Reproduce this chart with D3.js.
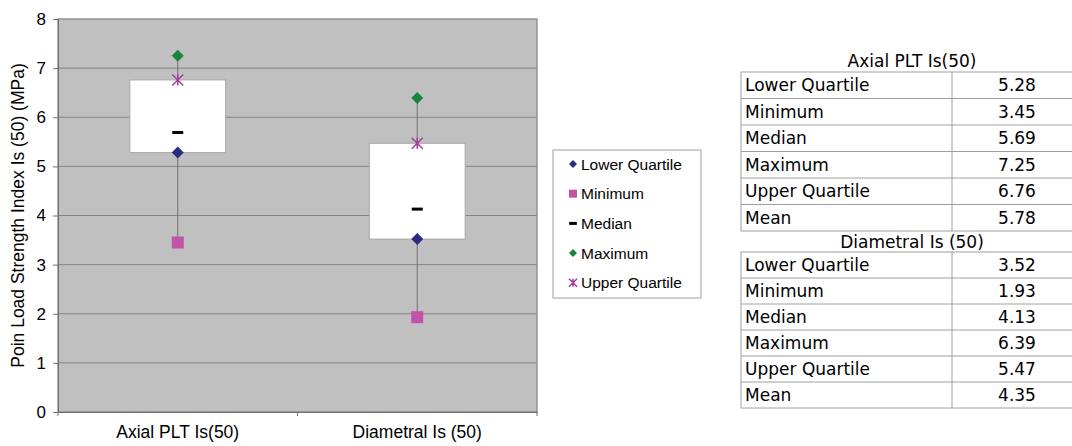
<!DOCTYPE html>
<html><head><meta charset="utf-8">
<script src="https://cdn.jsdelivr.net/npm/d3@7"></script>
<style>html,body{margin:0;padding:0;background:#fff;}svg{display:block;}</style>
</head><body><svg id="c" width="1072" height="446"></svg>
<script>
const categories = ["Axial PLT Is(50)", "Diametral Is (50)"];
const lowerQuartile = [5.28, 3.52];
const minimum = [3.45, 1.93];
const median = [5.69, 4.13];
const maximum = [7.25, 6.39];
const upperQuartile = [6.76, 5.47];
const mean = [5.78, 4.35];
const yTicks = [0,1,2,3,4,5,6,7,8];
const statLabels = ["Lower Quartile","Minimum","Median","Maximum","Upper Quartile","Mean"];
const legendLabels = ["Lower Quartile","Minimum","Median","Maximum","Upper Quartile"];
const yTitle = "Poin Load Strength Index Is (50) (MPa)";

const svg = d3.select("#c");
const L = 58, R = 537, T = 19, B = 412;
const x = d3.scaleBand().domain(categories).range([L, R]);
const y = d3.scaleLinear().domain([0, 8]).range([B, T]);
const col = {lq:"#2b2b84", min:"#c153a9", med:"#000", max:"#17853f", uq:"#a03ca0"};
const sans = "Liberation Sans, Arial, sans-serif";
const verd = "DejaVu Sans, Verdana, sans-serif";

svg.append("rect").attr("x",L).attr("y",T).attr("width",R-L).attr("height",B-T)
  .attr("fill","#c0c0c0").attr("stroke","#808080").attr("stroke-width",1.2);
svg.append("g").selectAll("line").data(yTicks.filter(d=>d>0&&d<8)).join("line")
  .attr("x1",L).attr("x2",R).attr("y1",d=>y(d)).attr("y2",d=>y(d))
  .attr("stroke","#858585").attr("stroke-width",1);

// y axis
const ya = svg.append("g").attr("transform",`translate(${L},0)`)
  .call(d3.axisLeft(y).tickValues(yTicks).tickSize(5).tickPadding(7).tickFormat(d3.format("d")));
ya.select(".domain").attr("stroke","#707070");
ya.selectAll(".tick line").attr("stroke","#707070");
ya.selectAll("text").attr("font-family",sans).attr("font-size",17).attr("fill","#000");
// x axis
const xa = svg.append("g").attr("transform",`translate(0,${B})`)
  .call(d3.axisBottom(x).tickSize(0).tickPadding(14));
xa.select(".domain").attr("stroke","#707070");
xa.selectAll("text").attr("font-family",sans).attr("font-size",17.5).attr("fill","#000");
svg.append("g").selectAll("line").data([L, L+x.bandwidth(), R]).join("line")
  .attr("x1",d=>d).attr("x2",d=>d).attr("y1",B).attr("y2",B+4).attr("stroke","#707070");

svg.append("text").attr("transform",`translate(24,${(T+B)/2}) rotate(-90)`)
  .attr("text-anchor","middle").attr("font-family",sans)
  .attr("font-size",17.5).text(yTitle);

const cx = i => x(categories[i]) + x.bandwidth()/2;
const idx = d3.range(categories.length);
const boxW = x.bandwidth()*0.4;
const g = svg.append("g");
g.selectAll("line.wh").data(idx).join("line").attr("class","wh")
  .attr("x1",cx).attr("x2",cx).attr("y1",i=>y(minimum[i])).attr("y2",i=>y(maximum[i]))
  .attr("stroke","#707070").attr("stroke-width",1);
g.selectAll("rect.box").data(idx).join("rect").attr("class","box")
  .attr("x",i=>cx(i)-boxW/2).attr("width",boxW)
  .attr("y",i=>y(upperQuartile[i])).attr("height",i=>y(lowerQuartile[i])-y(upperQuartile[i]))
  .attr("fill","#fff").attr("stroke","#a8a8a8").attr("stroke-width",1);

function marker(sel, type, s){
  if(type==="lq"||type==="max"){
    sel.append("path").attr("d",`M0,${-s}L${s},0L0,${s}L${-s},0Z`).attr("fill",col[type]);
  } else if(type==="min"){
    sel.append("rect").attr("x",-s).attr("y",-s).attr("width",2*s).attr("height",2*s).attr("fill",col.min);
  } else if(type==="med"){
    sel.append("rect").attr("x",-s*1.1).attr("y",-1.5).attr("width",s*2.2).attr("height",3).attr("fill","#000");
  } else {
    sel.append("path").attr("d",`M${-s},${-s}L${s},${s}M${-s},${s}L${s},${-s}M0,${-s}L0,${s}`)
      .attr("stroke",col.uq).attr("stroke-width",1.5).attr("fill","none");
  }
}
const series = [["min",minimum,6],["lq",lowerQuartile,6],["med",median,5],["max",maximum,6],["uq",upperQuartile,5.5]];
series.forEach(([t,arr,s])=>{
  idx.forEach(i=>{
    const m = g.append("g").attr("transform",`translate(${cx(i)},${y(arr[i])})`);
    marker(m,t,s);
  });
});

// legend
const lg = svg.append("g");
lg.append("rect").attr("x",553).attr("y",150).attr("width",148).attr("height",148)
  .attr("fill","#fff").attr("stroke","#a0a0a0");
const ltypes = ["lq","min","med","max","uq"];
legendLabels.forEach((lab,i)=>{
  const yy = 164 + i*29.7;
  const m = lg.append("g").attr("transform",`translate(573,${yy})`);
  marker(m, ltypes[i], ltypes[i]==="med"?3.5:4);
  lg.append("text").attr("x",581).attr("y",yy).attr("dy","0.36em")
    .attr("font-family",sans).attr("font-size",15.5).text(lab);
});

// tables
function table(title, titleY, top, rowH, vals){
  const tg = svg.append("g");
  tg.append("text").attr("x",912).attr("y",titleY).attr("dy","0.36em").attr("text-anchor","middle")
    .attr("font-family",verd).attr("font-size",17).text(title);
  const h = rowH*vals.length;
  tg.append("rect").attr("x",741).attr("y",top).attr("width",340).attr("height",h)
    .attr("fill","#fff").attr("stroke","#a0a0a0");
  tg.append("line").attr("x1",952).attr("x2",952).attr("y1",top).attr("y2",top+h).attr("stroke","#a0a0a0");
  vals.forEach((v,i)=>{
    if(i>0) tg.append("line").attr("x1",741).attr("x2",1072).attr("y1",top+i*rowH).attr("y2",top+i*rowH).attr("stroke","#a0a0a0");
    tg.append("text").attr("x",745).attr("y",top+i*rowH+rowH/2).attr("dy","0.36em")
      .attr("font-family",verd).attr("font-size",17).text(statLabels[i]);
    tg.append("text").attr("x",1017).attr("y",top+i*rowH+rowH/2).attr("dy","0.36em").attr("text-anchor","middle")
      .attr("font-family",verd).attr("font-size",17).text(v.toFixed(2));
  });
}
table("Axial PLT Is(50)", 61, 72, 26.5, [lowerQuartile[0],minimum[0],median[0],maximum[0],upperQuartile[0],mean[0]]);
table("Diametral Is (50)", 242, 252, 26, [lowerQuartile[1],minimum[1],median[1],maximum[1],upperQuartile[1],mean[1]]);
</script></body></html>
